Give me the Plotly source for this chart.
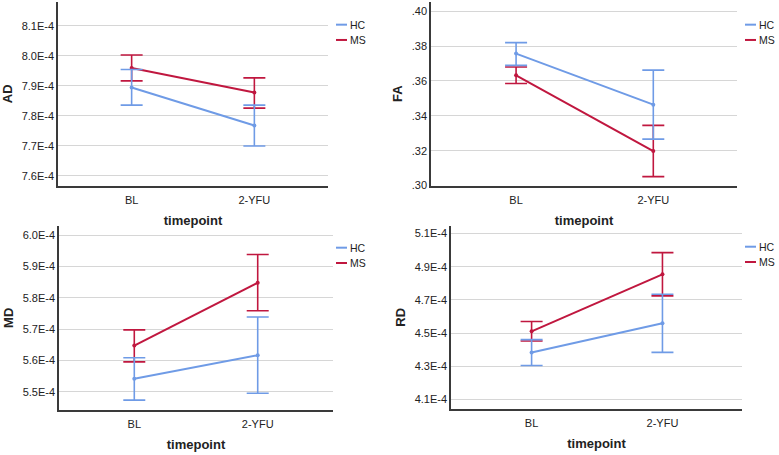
import plotly.graph_objects as go

timepoints = ["BL", "2-YFU"]
groups = ["HC", "MS"]

# values in units of 1E-4 for AD, MD, RD; raw for FA
ad_hc = [7.895, 7.768]
ad_hc_lo = [7.836, 7.700]
ad_hc_hi = [7.955, 7.836]
ad_ms = [7.960, 7.878]
ad_ms_lo = [7.917, 7.826]
ad_ms_hi = [8.003, 7.927]

fa_hc = [0.3757, 0.3464]
fa_hc_lo = [0.3689, 0.3266]
fa_hc_hi = [0.3820, 0.3662]
fa_ms = [0.3632, 0.3198]
fa_ms_lo = [0.3585, 0.3051]
fa_ms_hi = [0.3680, 0.3345]

md_hc = [5.542, 5.617]
md_hc_lo = [5.474, 5.496]
md_hc_hi = [5.609, 5.739]
md_ms = [5.648, 5.848]
md_ms_lo = [5.596, 5.759]
md_ms_hi = [5.698, 5.938]

rd_hc = [4.383, 4.559]
rd_hc_lo = [4.304, 4.383]
rd_hc_hi = [4.460, 4.734]
rd_ms = [4.510, 4.854]
rd_ms_lo = [4.452, 4.724]
rd_ms_hi = [4.569, 4.985]

ad_ticks = [7.6, 7.7, 7.8, 7.9, 8.0, 8.1]
fa_ticks = [0.30, 0.32, 0.34, 0.36, 0.38, 0.40]
md_ticks = [5.5, 5.6, 5.7, 5.8, 5.9, 6.0]
rd_ticks = [4.1, 4.3, 4.5, 4.7, 4.9, 5.1]

W, H = 779, 455
C_HC = "#6f9be6"
C_MS = "#c0173f"
FONT = "Liberation Sans, Arial, sans-serif"

def e4(v):
    return f"{v:.1f}E-4"

def fa_lbl(v):
    return f"{v:.2f}".lstrip("0")

panels = [
    dict(name="AD", hc=(ad_hc, ad_hc_lo, ad_hc_hi), ms=(ad_ms, ad_ms_lo, ad_ms_hi),
         ticks=ad_ticks, lbl=e4, yr=[7.568, 8.18], xpx=(58, 328), ypx=(2, 188),
         xr=[-0.6, 1.6], leg=(336, 25)),
    dict(name="FA", hc=(fa_hc, fa_hc_lo, fa_hc_hi), ms=(fa_ms, fa_ms_lo, fa_ms_hi),
         ticks=fa_ticks, lbl=fa_lbl, yr=[0.30, 0.4053], xpx=(431, 737), ypx=(2, 188),
         xr=[-0.62, 1.61], leg=(745, 25)),
    dict(name="MD", hc=(md_hc, md_hc_lo, md_hc_hi), ms=(md_ms, md_ms_lo, md_ms_hi),
         ticks=md_ticks, lbl=e4, yr=[5.444, 6.029], xpx=(59, 333), ypx=(229, 415),
         xr=[-0.61, 1.61], leg=(336, 251)),
    dict(name="RD", hc=(rd_hc, rd_hc_lo, rd_hc_hi), ms=(rd_ms, rd_ms_lo, rd_ms_hi),
         ticks=rd_ticks, lbl=e4, yr=[4.0445, 5.1455], xpx=(451, 742), ypx=(229, 414),
         xr=[-0.616, 1.608], leg=(745, 250)),
]

fig = go.Figure()
annotations = []
shapes = []
for i, p in enumerate(panels):
    k = "" if i == 0 else str(i + 1)
    xa, ya = "x" + k, "y" + k
    for g, col in (("ms", C_MS), ("hc", C_HC)):
        v, lo, hi = p[g]
        fig.add_trace(go.Scatter(
            x=timepoints, y=v, xaxis=xa, yaxis=ya, mode="lines+markers",
            line=dict(color=col, width=2), marker=dict(size=4, color=col),
            error_y=dict(type="data", symmetric=False,
                         array=[h - m for h, m in zip(hi, v)],
                         arrayminus=[m - l for m, l in zip(v, lo)],
                         color=col, thickness=1.6, width=11),
            showlegend=False, hoverinfo="skip"))
    x0, x1 = p["xpx"]
    y0, y1 = p["ypx"]
    fig.layout["xaxis" + k] = dict(
        domain=[x0 / W, x1 / W], range=p["xr"], anchor=ya,
        type="category", categoryorder="array", categoryarray=timepoints,
        showgrid=False, showline=True, linecolor="#3a3a3a", linewidth=1.5,
        ticks="", ticklen=0, ticklabelstandoff=4,
        tickfont=dict(size=11, color="#222", family=FONT),
        title=dict(text="<b>timepoint</b>", font=dict(size=13, color="#222", family=FONT),
                   standoff=10),
        zeroline=False, fixedrange=True)
    fig.layout["yaxis" + k] = dict(
        domain=[1 - y1 / H, 1 - y0 / H], range=p["yr"], anchor=xa,
        tickvals=p["ticks"], ticktext=[p["lbl"](t) for t in p["ticks"]],
        showgrid=True, gridcolor="#d6d6d6", gridwidth=1,
        showline=True, linecolor="#3a3a3a", linewidth=1.5,
        ticks="", ticklen=0, tickfont=dict(size=11, color="#222", family=FONT),
        title=dict(text="<b>" + p["name"] + "</b>", font=dict(size=13, color="#222", family=FONT),
                   standoff=6),
        zeroline=False, fixedrange=True)
    lx, ly = p["leg"]
    for j, (g, col) in enumerate((("HC", C_HC), ("MS", C_MS))):
        yy = ly + j * 15.5
        shapes.append(dict(type="line", xref="paper", yref="paper",
                           x0=lx / W, x1=(lx + 11) / W, y0=1 - yy / H, y1=1 - yy / H,
                           line=dict(color=col, width=2)))
        annotations.append(dict(xref="paper", yref="paper", x=(lx + 12) / W, y=1 - yy / H,
                                text=g, showarrow=False, xanchor="left", yanchor="middle",
                                font=dict(size=10.5, color="#222", family=FONT)))

fig.update_layout(
    width=W, height=H, margin=dict(l=0, r=0, t=0, b=0),
    paper_bgcolor="white", plot_bgcolor="white",
    shapes=shapes, annotations=annotations, showlegend=False,
)
fig.write_html("out.html", config={"displayModeBar": False},
               post_script="document.body.style.margin='0';")
